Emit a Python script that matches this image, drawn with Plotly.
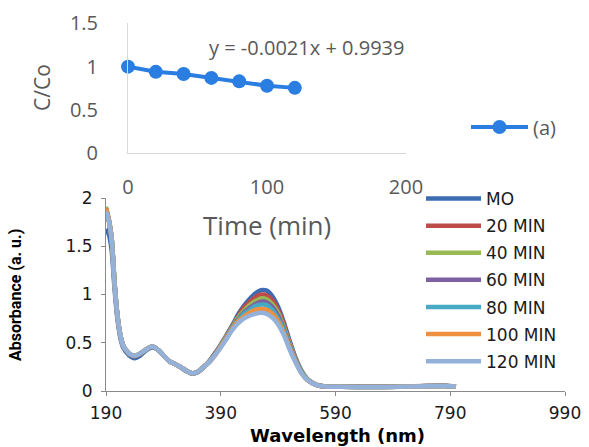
import plotly.graph_objects as go

# ---- Inset: C/Co versus irradiation time ----
time_min = [0, 20, 40, 60, 80, 100, 120]
c_over_c0 = [1.0, 0.94, 0.915, 0.87, 0.83, 0.78, 0.755]
fit_label = "y = -0.0021x + 0.9939"

# ---- Main panel: UV-Vis spectra ----
wavelength_nm = [190, 195, 200, 205, 210, 215, 220, 230, 240, 250, 260, 270, 280, 290,
                 300, 310, 320, 330, 340, 350, 360, 370, 380, 390, 400, 410, 420, 430,
                 440, 450, 460, 470, 480, 490, 500, 510, 520, 530, 540, 550, 560, 570,
                 580, 600, 650, 700, 750, 780, 800]

abs_mo = [1.68, 1.62, 1.45, 1.05, 0.74, 0.55, 0.45, 0.37, 0.34, 0.37, 0.42, 0.45, 0.43, 0.37,
          0.31, 0.28, 0.245, 0.205, 0.18, 0.195, 0.245, 0.31, 0.39, 0.48, 0.58, 0.68, 0.79, 0.88,
          0.95, 1.01, 1.045, 1.04, 0.98, 0.87, 0.71, 0.52, 0.35, 0.22, 0.13, 0.085, 0.058, 0.05,
          0.046, 0.044, 0.043, 0.044, 0.052, 0.054, 0.047]
abs_20 = [1.88, 1.77, 1.57, 1.11, 0.78, 0.58, 0.47, 0.385, 0.36, 0.385, 0.43, 0.46, 0.43, 0.37,
          0.31, 0.28, 0.25, 0.21, 0.185, 0.20, 0.25, 0.305, 0.39, 0.47, 0.57, 0.67, 0.77, 0.86,
          0.92, 0.97, 1.00, 0.99, 0.94, 0.84, 0.69, 0.50, 0.34, 0.21, 0.13, 0.083, 0.057, 0.049,
          0.046, 0.044, 0.043, 0.044, 0.053, 0.055, 0.047]
abs_40 = [1.91, 1.78, 1.58, 1.11, 0.78, 0.58, 0.47, 0.385, 0.36, 0.39, 0.43, 0.46, 0.43, 0.37,
          0.31, 0.28, 0.25, 0.21, 0.185, 0.20, 0.25, 0.305, 0.38, 0.47, 0.57, 0.66, 0.76, 0.83,
          0.89, 0.93, 0.96, 0.95, 0.90, 0.81, 0.66, 0.49, 0.33, 0.21, 0.13, 0.082, 0.056, 0.049,
          0.045, 0.043, 0.042, 0.043, 0.051, 0.053, 0.046]
abs_60 = [1.89, 1.77, 1.57, 1.11, 0.78, 0.58, 0.47, 0.385, 0.36, 0.39, 0.43, 0.46, 0.43, 0.37,
          0.31, 0.28, 0.25, 0.21, 0.185, 0.20, 0.25, 0.30, 0.38, 0.46, 0.56, 0.65, 0.74, 0.81,
          0.86, 0.90, 0.925, 0.92, 0.87, 0.78, 0.64, 0.47, 0.32, 0.20, 0.12, 0.081, 0.056, 0.048,
          0.045, 0.043, 0.042, 0.043, 0.051, 0.053, 0.046]
abs_80 = [1.88, 1.77, 1.57, 1.11, 0.78, 0.58, 0.47, 0.39, 0.365, 0.39, 0.43, 0.46, 0.43, 0.37,
          0.31, 0.28, 0.25, 0.21, 0.185, 0.20, 0.25, 0.30, 0.38, 0.46, 0.55, 0.65, 0.73, 0.80,
          0.84, 0.88, 0.895, 0.89, 0.84, 0.75, 0.63, 0.46, 0.32, 0.20, 0.12, 0.081, 0.055, 0.048,
          0.045, 0.043, 0.042, 0.043, 0.050, 0.052, 0.046]
abs_100 = [1.89, 1.77, 1.57, 1.11, 0.78, 0.58, 0.47, 0.39, 0.365, 0.39, 0.43, 0.46, 0.43, 0.37,
           0.31, 0.28, 0.25, 0.21, 0.185, 0.20, 0.25, 0.30, 0.37, 0.46, 0.55, 0.64, 0.72, 0.77,
           0.81, 0.84, 0.85, 0.84, 0.80, 0.72, 0.60, 0.45, 0.31, 0.19, 0.12, 0.08, 0.055, 0.048,
           0.045, 0.043, 0.042, 0.043, 0.050, 0.052, 0.046]
abs_120 = [1.86, 1.76, 1.56, 1.10, 0.78, 0.58, 0.47, 0.39, 0.365, 0.39, 0.43, 0.46, 0.43, 0.37,
           0.31, 0.28, 0.25, 0.21, 0.185, 0.20, 0.25, 0.30, 0.37, 0.45, 0.54, 0.63, 0.70, 0.75,
           0.78, 0.80, 0.81, 0.80, 0.76, 0.69, 0.58, 0.43, 0.30, 0.19, 0.12, 0.08, 0.055, 0.048,
           0.045, 0.043, 0.042, 0.043, 0.050, 0.052, 0.046]

series_names = ["MO", "20 MIN", "40 MIN", "60 MIN", "80 MIN", "100 MIN", "120 MIN"]
series_values = [abs_mo, abs_20, abs_40, abs_60, abs_80, abs_100, abs_120]
series_colors = ["#3D6CB2", "#BE4B48", "#98B954", "#7D60A0", "#46AAC5", "#F0903F", "#94B1D9"]

W, H = 589, 447
fig = go.Figure()

for name, vals, col in zip(series_names, series_values, series_colors):
    fig.add_trace(go.Scatter(
        x=wavelength_nm, y=vals, name=name, mode="lines", legendgroup=name,
        line=dict(color=col, width=4.5, shape="spline", smoothing=0.6),
        xaxis="x", yaxis="y", legend="legend",
    ))

fig.add_trace(go.Scatter(
    x=time_min, y=c_over_c0, name="(a)", mode="lines+markers",
    line=dict(color="#2A7DE1", width=4), marker=dict(color="#2A7DE1", size=14),
    xaxis="x2", yaxis="y2", legend="legend2", cliponaxis=False,
))

gray_txt = "#595959"
top_font = dict(family="Open Sans", size=20, color=gray_txt)
bot_font = dict(family="DejaVu Sans", size=17, color="#1a1a1a")
legend_font = dict(family="DejaVu Sans", size=17, color="#1a1a1a")


def label(text, x_px, y_px, font, angle=0):
    """Free-standing text placed by its centre, in pixel units of the page."""
    return dict(text=text, x=x_px / W, y=1 - y_px / H, xref="paper", yref="paper",
                xanchor="center", yanchor="middle", textangle=angle,
                showarrow=False, font=font)


fig.update_layout(
    width=W, height=H,
    margin=dict(l=0, r=0, t=0, b=0, autoexpand=False),
    paper_bgcolor="white", plot_bgcolor="rgba(0,0,0,0)",
    xaxis=dict(domain=[106 / W, 565 / W], range=[190, 990], tick0=190, dtick=200,
               showline=True, linecolor="#8a8a8a", linewidth=1, showgrid=False, zeroline=False,
               ticks="outside", ticklen=4, tickcolor="#8a8a8a", tickfont=bot_font,
               ticklabelstandoff=3, automargin=False),
    yaxis=dict(domain=[1 - 391 / H, 1 - 198 / H], range=[0, 2], dtick=0.5,
               showline=True, linecolor="#8a8a8a", linewidth=1, showgrid=False, zeroline=False,
               ticks="outside", ticklen=4, tickcolor="#8a8a8a", tickfont=bot_font,
               ticklabelstandoff=5, automargin=False),
    xaxis2=dict(domain=[128 / W, 406 / W], range=[0, 200], dtick=100, anchor="y2",
                showline=True, linecolor="#D9D9D9", linewidth=1, showgrid=False, zeroline=False,
                ticks="", tickfont=top_font, ticklabelstandoff=16, automargin=False),
    yaxis2=dict(domain=[1 - 153.3 / H, 1 - 23.3 / H], range=[0, 1.5], dtick=0.5, anchor="x2",
                showline=True, linecolor="#D9D9D9", linewidth=1, showgrid=False, zeroline=False,
                ticks="", tickfont=top_font, ticklabelstandoff=25, automargin=False),
    legend=dict(x=421 / W, y=1 - 181 / H, xanchor="left", yanchor="top",
                bgcolor="rgba(0,0,0,0)", font=legend_font, itemwidth=55, tracegroupgap=2),
    legend2=dict(x=466 / W, y=1 - 127 / H, xanchor="left", yanchor="middle",
                 bgcolor="rgba(0,0,0,0)", font=dict(family="Open Sans", size=20, color=gray_txt),
                 itemwidth=57),
    showlegend=True,
    annotations=[
        label(fit_label, 306, 47, dict(family="Open Sans", size=20, color=gray_txt)),
        label("Time (min)", 267, 225, dict(family="Open Sans", size=26, color=gray_txt)),
        label("C/Co", 42, 88, dict(family="Open Sans", size=21, color=gray_txt), angle=-90),
        label("<b>Absorbance (a. u.)</b>", 15, 295,
              dict(family="Roboto", size=16, color="#000000"), angle=-90),
        label("<b>Wavelength (nm)</b>", 337, 435,
              dict(family="DejaVu Sans", size=18, color="#000000")),
    ],
)

fig.write_html("out.html")
